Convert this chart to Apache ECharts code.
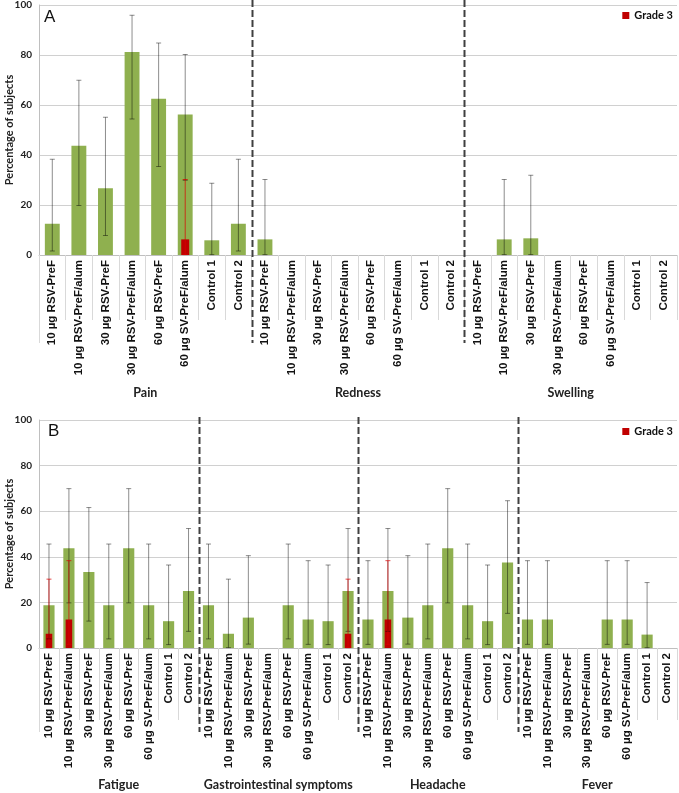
<!DOCTYPE html>
<html>
<head>
<meta charset="utf-8">
<script src="https://cdn.jsdelivr.net/npm/echarts@6/dist/echarts.min.js"></script>
<style>
html, body { margin: 0; padding: 0; background: #fff; }
#chart { width: 679px; height: 793px; }
</style>
</head>
<body>
<div id="chart"></div>
<script>
// group names on the category axis
var doses = ['10 µg RSV-PreF', '10 µg RSV-PreF/alum', '30 µg RSV-PreF', '30 µg RSV-PreF/alum',
             '60 µg RSV-PreF', '60 µg SV-PreF/alum', 'Control 1', 'Control 2'];
var groupsA = ['Pain', 'Redness', 'Swelling'];
var groupsB = ['Fatigue', 'Gastrointestinal symptoms', 'Headache', 'Fever'];

// panel A - local reactions (% of subjects, 95% CI)
var painVal     = [12.5, 43.75, 26.67, 81.25, 62.5, 56.25, 5.88, 12.5];
var painHi      = [38.3, 69.9, 55.1, 95.9, 84.8, 80.2, 28.7, 38.3];
var painLo      = [1.6, 19.8, 7.8, 54.4, 35.4, 29.9, 0.15, 1.6];
var painG3      = [null, null, null, null, null, 6.25, null, null];
var painG3Hi    = [null, null, null, null, null, 30.2, null, null];
var painG3Lo    = [null, null, null, null, null, 0.16, null, null];

var rednessVal  = [6.25, 0, 0, 0, 0, 0, 0, 0];
var rednessHi   = [30.2, null, null, null, null, null, null, null];
var rednessLo   = [0.16, null, null, null, null, null, null, null];

var swellingVal = [0, 6.25, 6.67, 0, 0, 0, 0, 0];
var swellingHi  = [null, 30.2, 31.9, null, null, null, null, null];
var swellingLo  = [null, 0.16, 0.17, null, null, null, null, null];

var none8 = [null, null, null, null, null, null, null, null];

// panel B - systemic events
var fatigueVal  = [18.75, 43.75, 33.33, 18.75, 43.75, 18.75, 11.76, 25];
var fatigueHi   = [45.6, 69.9, 61.6, 45.6, 69.9, 45.6, 36.4, 52.4];
var fatigueLo   = [4.0, 19.8, 11.8, 4.0, 19.8, 4.0, 1.5, 7.3];
var fatigueG3   = [6.25, 12.5, null, null, null, null, null, null];
var fatigueG3Hi = [30.2, 38.3, null, null, null, null, null, null];
var fatigueG3Lo = [0.16, 1.6, null, null, null, null, null, null];

var giVal       = [18.75, 6.25, 13.33, 0, 18.75, 12.5, 11.76, 25];
var giHi        = [45.6, 30.2, 40.5, null, 45.6, 38.3, 36.4, 52.4];
var giLo        = [4.0, 0.16, 1.7, null, 4.0, 1.6, 1.5, 7.3];
var giG3        = [null, null, null, null, null, null, null, 6.25];
var giG3Hi      = [null, null, null, null, null, null, null, 30.2];
var giG3Lo      = [null, null, null, null, null, null, null, 0.16];

var headVal     = [12.5, 25, 13.33, 18.75, 43.75, 18.75, 11.76, 37.5];
var headHi      = [38.3, 52.4, 40.5, 45.6, 69.9, 45.6, 36.4, 64.6];
var headLo      = [1.6, 7.3, 1.7, 4.0, 19.8, 4.0, 1.5, 15.2];
var headG3      = [null, 12.5, null, null, null, null, null, null];
var headG3Hi    = [null, 38.3, null, null, null, null, null, null];
var headG3Lo    = [null, 1.6, null, null, null, null, null, null];

var feverVal    = [12.5, 12.5, 0, 0, 12.5, 12.5, 5.88, 0];
var feverHi     = [38.3, 38.3, null, null, 38.3, 38.3, 28.7, null];
var feverLo     = [1.6, 1.6, null, null, 1.6, 1.6, 0.15, null];

var catsA = doses.concat(doses, doses);
var catsB = doses.concat(doses, doses, doses);

var aVal = painVal.concat(rednessVal, swellingVal);
var aHi = painHi.concat(rednessHi, swellingHi);
var aLo = painLo.concat(rednessLo, swellingLo);
var aG3 = painG3.concat(none8, none8);
var aG3Hi = painG3Hi.concat(none8, none8);
var aG3Lo = painG3Lo.concat(none8, none8);

var bVal = fatigueVal.concat(giVal, headVal, feverVal);
var bHi = fatigueHi.concat(giHi, headHi, feverHi);
var bLo = fatigueLo.concat(giLo, headLo, feverLo);
var bG3 = fatigueG3.concat(giG3, headG3, none8);
var bG3Hi = fatigueG3Hi.concat(giG3Hi, headG3Hi, none8);
var bG3Lo = fatigueG3Lo.concat(giG3Lo, headG3Lo, none8);

var GREEN = '#8fb04f';
var RED = '#c00000';

function errData(lo, hi) {
    var out = [];
    for (var i = 0; i < hi.length; i++) {
        if (hi[i] != null) out.push([i, lo[i], hi[i]]);
    }
    return out;
}

function errRender(color) {
    return function (params, api) {
        var x = api.value(0);
        var lo = api.coord([x, api.value(1)]);
        var hi = api.coord([x, api.value(2)]);
        var st = { stroke: color, lineWidth: 1 };
        var c = 2.5;
        return {
            type: 'group',
            children: [
                { type: 'line', shape: { x1: lo[0], y1: lo[1], x2: hi[0], y2: hi[1] }, style: st },
                { type: 'line', shape: { x1: hi[0] - c, y1: hi[1], x2: hi[0] + c, y2: hi[1] }, style: st },
                { type: 'line', shape: { x1: lo[0] - c, y1: lo[1], x2: lo[0] + c, y2: lo[1] }, style: st }
            ]
        };
    };
}

var labelFont = { fontFamily: 'Liberation Sans', fontWeight: 'bold', fontSize: 11.5, color: '#111' };

function mainX(grid, cats, tickLen) {
    return {
        type: 'category', gridIndex: grid, data: cats,
        axisLine: { lineStyle: { color: '#bfbfbf' } },
        axisTick: { show: true, interval: 0, length: tickLen, lineStyle: { color: '#d9d9d9' } },
        axisLabel: Object.assign({ interval: 0, rotate: 90, margin: 5 }, labelFont)
    };
}
function groupX(grid, groups, offset) {
    return {
        type: 'category', gridIndex: grid, data: groups, position: 'bottom', offset: offset,
        axisLine: { show: false }, axisTick: { show: false },
        axisLabel: { interval: 0, margin: 6, fontFamily: 'Lato', fontWeight: 'bold', fontSize: 12.5, color: '#222' }
    };
}
function hiddenX(grid, cats) {
    return { type: 'category', gridIndex: grid, data: cats, show: false };
}
function yAx(grid) {
    return {
        type: 'value', gridIndex: grid, min: 0, max: 100, interval: 20,
        name: 'Percentage of subjects', nameLocation: 'middle', nameGap: 24, nameMoveOverlap: false,
        nameTextStyle: { fontFamily: 'Lato', fontWeight: 'bold', fontSize: 11, color: '#222' },
        axisLine: { show: true, lineStyle: { color: '#bfbfbf' } },
        axisTick: { show: false },
        splitLine: { lineStyle: { color: '#d0d0d0' } },
        axisLabel: { margin: 7, fontFamily: 'Lato', fontWeight: 'bold', fontSize: 10, color: '#222' }
    };
}

var dom = document.getElementById('chart');
var myChart = echarts.init(dom, null, { renderer: 'canvas' });

option = {
    animation: false,
    backgroundColor: '#fff',
    grid: [
        { left: 39, right: 2, top: 5, height: 250, outerBoundsMode: 'none' },
        { left: 39, right: 2, top: 420, height: 228, outerBoundsMode: 'none' }
    ],
    legend: [
        { data: ['Grade 3'], right: 1, top: 5, itemWidth: 7, itemHeight: 7, itemGap: 4, icon: 'rect',
          textStyle: { fontFamily: 'Lato', fontWeight: 'bold', fontSize: 11, color: '#111' } },
        { data: ['Grade 3'], right: 1, top: 421, itemWidth: 7, itemHeight: 7, itemGap: 4, icon: 'rect',
          textStyle: { fontFamily: 'Lato', fontWeight: 'bold', fontSize: 11, color: '#111' } }
    ],
    xAxis: [
        mainX(0, catsA, 65), groupX(0, groupsA, 125), hiddenX(0, catsA),
        mainX(1, catsB, 72), groupX(1, groupsB, 124), hiddenX(1, catsB)
    ],
    yAxis: [yAx(0), yAx(1)],
    series: [
        { name: 'Any grade', type: 'bar', xAxisIndex: 0, yAxisIndex: 0, data: aVal,
          barWidth: '56%', itemStyle: { color: GREEN }, z: 2 },
        { name: 'Grade 3', type: 'bar', xAxisIndex: 2, yAxisIndex: 0, data: aG3,
          barWidth: '30%', itemStyle: { color: RED }, z: 3 },
        { type: 'custom', xAxisIndex: 0, yAxisIndex: 0, data: errData(aLo, aHi),
          renderItem: errRender('rgba(0,0,0,0.45)'), z: 4 },
        { type: 'custom', xAxisIndex: 0, yAxisIndex: 0, data: errData(aG3Lo, aG3Hi),
          renderItem: errRender('rgba(220,0,0,0.7)'), z: 5 },

        { name: 'Any grade', type: 'bar', xAxisIndex: 3, yAxisIndex: 1, data: bVal,
          barWidth: '56%', itemStyle: { color: GREEN }, z: 2 },
        { name: 'Grade 3', type: 'bar', xAxisIndex: 5, yAxisIndex: 1, data: bG3,
          barWidth: '33%', itemStyle: { color: RED }, z: 3 },
        { type: 'custom', xAxisIndex: 3, yAxisIndex: 1, data: errData(bLo, bHi),
          renderItem: errRender('rgba(0,0,0,0.45)'), z: 4 },
        { type: 'custom', xAxisIndex: 3, yAxisIndex: 1, data: errData(bG3Lo, bG3Hi),
          renderItem: errRender('rgba(220,0,0,0.7)'), z: 5 }
    ]
};

myChart.setOption(option);

// group separators, panel letters and the longer left boundary tick
function boundary(axisIdx, i) {
    var a = myChart.convertToPixel({ xAxisIndex: axisIdx }, i - 1);
    var b = myChart.convertToPixel({ xAxisIndex: axisIdx }, i);
    return Math.round((a + b) / 2) + 0.5;
}
var dash = { stroke: '#404040', lineWidth: 2, lineDash: [7, 3] };
var thin = { stroke: '#d9d9d9', lineWidth: 1 };
var gfx = [];
[8, 16].forEach(function (i) {
    var x = boundary(0, i);
    gfx.push({ type: 'line', shape: { x1: x, y1: 0, x2: x, y2: 343 }, style: dash, z: 10 });
});
[8, 16, 24].forEach(function (i) {
    var x = boundary(3, i);
    gfx.push({ type: 'line', shape: { x1: x, y1: 417, x2: x, y2: 732 }, style: dash, z: 10 });
});
gfx.push({ type: 'line', shape: { x1: 39.5, y1: 255, x2: 39.5, y2: 343 }, style: thin });
gfx.push({ type: 'line', shape: { x1: 39.5, y1: 648, x2: 39.5, y2: 732 }, style: thin });
gfx.push({ type: 'text', left: 44, top: 9, style: { text: 'A', font: '17px "Liberation Sans"', fill: '#111' } });
gfx.push({ type: 'text', left: 48, top: 423, style: { text: 'B', font: '17px "Liberation Sans"', fill: '#111' } });

myChart.setOption({ graphic: gfx });
</script>
</body>
</html>
